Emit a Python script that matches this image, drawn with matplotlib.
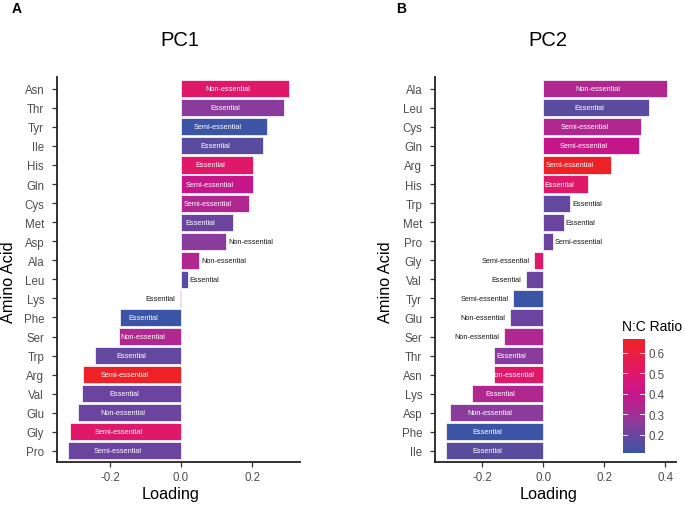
import numpy as np
import matplotlib
matplotlib.use("Agg")
import matplotlib.pyplot as plt
from matplotlib.colors import LinearSegmentedColormap, Normalize
from matplotlib.cm import ScalarMappable

plt.rcParams['font.family'] = ['Liberation Sans', 'DejaVu Sans']

# N:C ratio of each amino acid (fill colour)
nc_ratio = {
    'Gly': 1/2, 'Ala': 1/3, 'Ser': 1/3, 'Pro': 1/5, 'Val': 1/5, 'Thr': 1/4,
    'Cys': 1/3, 'Leu': 1/6, 'Ile': 1/6, 'Asn': 2/4, 'Asp': 1/4, 'Gln': 2/5,
    'Lys': 2/6, 'Glu': 1/5, 'Met': 1/5, 'His': 3/6, 'Phe': 1/9, 'Arg': 4/6,
    'Tyr': 1/9, 'Trp': 2/11,
}
essential = {
    'Gly': 'Semi-essential', 'Ala': 'Non-essential', 'Ser': 'Non-essential',
    'Pro': 'Semi-essential', 'Val': 'Essential', 'Thr': 'Essential',
    'Cys': 'Semi-essential', 'Leu': 'Essential', 'Ile': 'Essential',
    'Asn': 'Non-essential', 'Asp': 'Non-essential', 'Gln': 'Semi-essential',
    'Lys': 'Essential', 'Glu': 'Non-essential', 'Met': 'Essential',
    'His': 'Essential', 'Phe': 'Essential', 'Arg': 'Semi-essential',
    'Tyr': 'Semi-essential', 'Trp': 'Essential',
}

# PC1 loadings, top to bottom
pc1_aa = ['Asn', 'Thr', 'Tyr', 'Ile', 'His', 'Gln', 'Cys', 'Met', 'Asp', 'Ala',
          'Leu', 'Lys', 'Phe', 'Ser', 'Trp', 'Arg', 'Val', 'Glu', 'Gly', 'Pro']
pc1_val = [0.305, 0.289, 0.243, 0.232, 0.204, 0.203, 0.192, 0.147, 0.128, 0.051,
           0.019, -0.002, -0.172, -0.175, -0.243, -0.275, -0.278, -0.289, -0.311, -0.318]

# PC2 loadings, top to bottom
pc2_aa = ['Ala', 'Leu', 'Cys', 'Gln', 'Arg', 'His', 'Trp', 'Met', 'Pro', 'Gly',
          'Val', 'Tyr', 'Glu', 'Ser', 'Thr', 'Asn', 'Lys', 'Asp', 'Phe', 'Ile']
pc2_val = [0.406, 0.346, 0.319, 0.313, 0.221, 0.147, 0.088, 0.067, 0.032, -0.030,
           -0.056, -0.099, -0.110, -0.128, -0.162, -0.163, -0.234, -0.305, -0.319, -0.320]

vmin, vmax = min(nc_ratio.values()), max(nc_ratio.values())
anchors = [(vmin, '#3B54A6'), (0.167, '#5A4C9E'), (0.2, '#6C44A0'), (0.25, '#8A3C9C'),
           (0.333, '#B0288F'), (0.4, '#C7168A'), (0.5, '#E0186A'), (vmax, '#EE2226')]
cmap = LinearSegmentedColormap.from_list(
    'nc', [(min(1.0, max(0.0, (v - vmin) / (vmax - vmin))), c) for v, c in anchors])
norm = Normalize(vmin, vmax)

fig = plt.figure(figsize=(6.84, 5.06), dpi=100)
W, H = 684, 506


def panel(left, right, aa, vals, xlim, xticks):
    ax = fig.add_axes([left / W, 1 - 463.3 / H, (right - left) / W, 385 / H])
    n = len(aa)
    y = np.arange(n)[::-1]
    cols = [cmap(norm(nc_ratio[a])) for a in aa]
    ax.barh(y, vals, height=0.9, color=cols, edgecolor='white', linewidth=0.5)
    for yi, a, v in zip(y, aa, vals):
        lab = essential[a]
        if abs(v) > 0.14:
            ax.annotate(lab, (v / 2, yi), xytext=(-5, 0), textcoords='offset points',
                        ha='center', va='center', fontsize=5.3, color='white')
        elif v >= 0:
            ax.annotate(lab, (v, yi), xytext=(1.5, 0), textcoords='offset points',
                        ha='left', va='center', fontsize=5.3, color='#1a1a1a')
        else:
            ax.annotate(lab, (v, yi), xytext=(-3.5, 0), textcoords='offset points',
                        ha='right', va='center', fontsize=5.3, color='#1a1a1a')
    ax.set_xlim(*xlim)
    ax.set_ylim(-0.6, n - 0.4)
    ax.set_yticks(y)
    ax.set_yticklabels(aa)
    ax.set_xticks(xticks)
    ax.set_xticklabels(['%.1f' % t for t in xticks])
    for s in ['top', 'right']:
        ax.spines[s].set_visible(False)
    for s in ['left', 'bottom']:
        ax.spines[s].set_linewidth(1.3)
        ax.spines[s].set_color('#222222')
    ax.tick_params(length=3.5, width=0.9, color='#333333', labelsize=8.3,
                   labelcolor='#4d4d4d')
    ax.tick_params(axis='y', pad=6)
    ax.tick_params(axis='x', pad=3)
    return ax


panel(57.3, 300, pc1_aa, pc1_val, (-0.348, 0.335), [-0.2, 0.0, 0.2])
panel(435.3, 676.3, pc2_aa, pc2_val, (-0.354, 0.436), [-0.2, 0.0, 0.2, 0.4])

fig.text(180 / W, 1 - 41 / H, 'PC1', fontsize=14.5, ha='center', va='center')
fig.text(547.5 / W, 1 - 41 / H, 'PC2', fontsize=14.5, ha='center', va='center')
fig.text(170.5 / W, 1 - 495 / H, 'Loading', fontsize=11.7, ha='center', va='center')
fig.text(548.3 / W, 1 - 495 / H, 'Loading', fontsize=11.7, ha='center', va='center')
fig.text(8.5 / W, 1 - 282 / H, 'Amino Acid', fontsize=11.7, rotation=90,
         ha='center', va='center')
fig.text(385 / W, 1 - 282 / H, 'Amino Acid', fontsize=11.7, rotation=90,
         ha='center', va='center')
fig.text(12 / W, 1 - 9 / H, 'A', fontsize=10, fontweight='bold', ha='left', va='center')
fig.text(396 / W, 1 - 9 / H, 'B', fontsize=10, fontweight='bold', ha='left', va='center')

# colour bar
cax = fig.add_axes([622.7 / W, 1 - 454 / H, 22 / W, 114 / H])
cb = fig.colorbar(ScalarMappable(norm=norm, cmap=cmap), cax=cax,
                  ticks=[0.2, 0.3, 0.4, 0.5, 0.6])
cb.outline.set_visible(False)
cax.tick_params(length=0, labelsize=8.3, labelcolor='#4d4d4d', pad=2.5)
for t in [0.2, 0.3, 0.4, 0.5, 0.6]:
    cax.plot([0, 0.2], [t, t], color='white', lw=0.6, transform=cax.get_yaxis_transform())
    cax.plot([0.8, 1], [t, t], color='white', lw=0.6, transform=cax.get_yaxis_transform())
fig.text(622 / W, 1 - 326.7 / H, 'N:C Ratio', fontsize=10, ha='left', va='center')

fig.savefig('out.png', dpi=100)
